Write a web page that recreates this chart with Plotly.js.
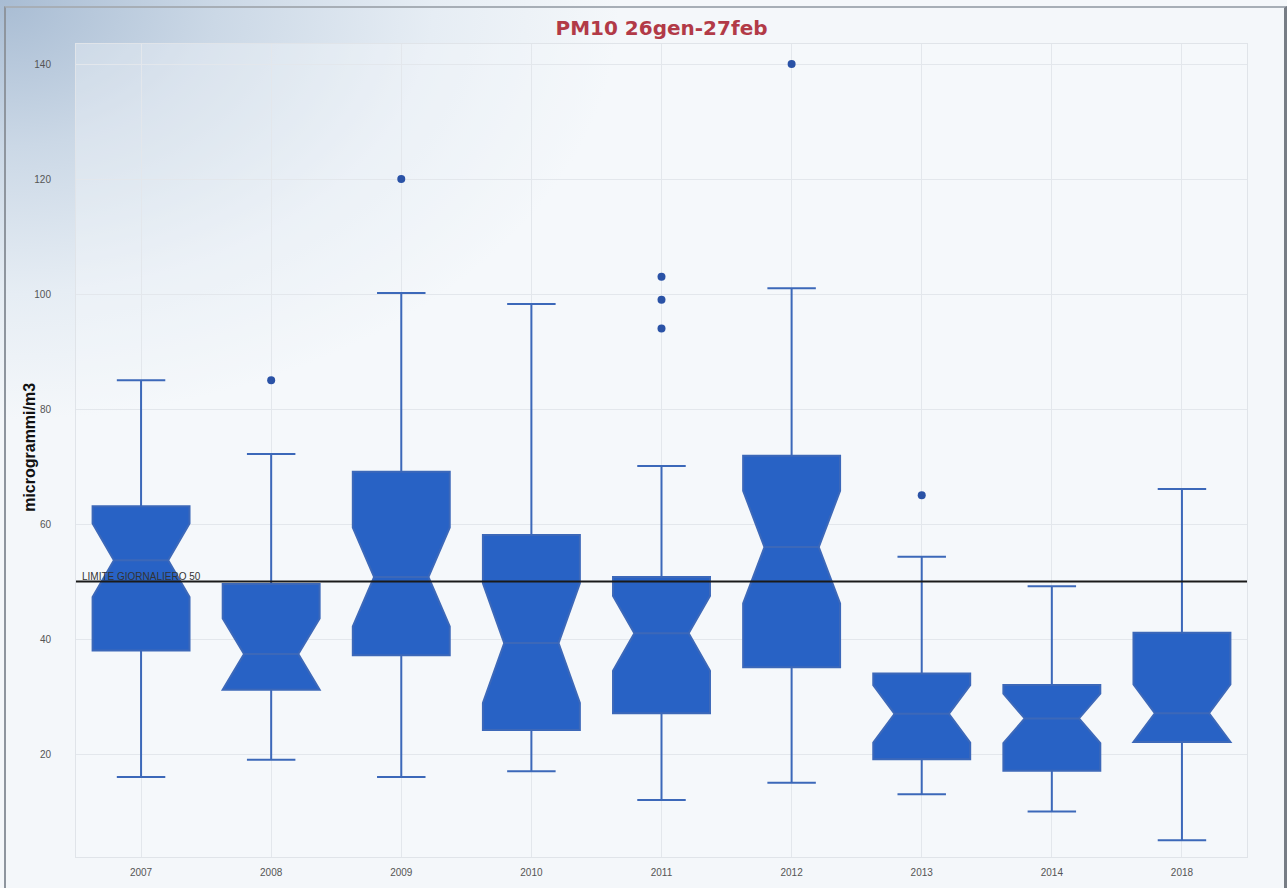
<!DOCTYPE html>
<html>
<head>
<meta charset="utf-8">
<script src="https://cdn.plot.ly/plotly-3.0.1.min.js"></script>
<style>
  html, body { margin: 0; padding: 0; }
  body {
    width: 1287px; height: 888px; overflow: hidden;
    background: radial-gradient(ellipse 620px 420px at 0px 0px, #a8bcd3 0%, #cbd8e6 35%, #e6edf4 70%, #f4f7fa 100%);
    background-color: #f4f7fa;
    position: relative;
  }
  #frame {
    position: absolute; left: 4px; top: 6px; width: 1278px; height: 890px;
    border-left: 2px solid #8e959e; border-top: 2px solid #a7aeb6; border-right: 3px solid #777d85;
    pointer-events: none; z-index: 5;
  }
  #chart { position: absolute; left: 0; top: 0; width: 1287px; height: 888px; }
</style>
</head>
<body>
<div id="chart"></div>
<div id="frame"></div>
<script>
const years      = ["2007", "2008", "2009", "2010", "2011", "2012", "2013", "2014", "2018"];
const lowerFence = [16, 19, 16, 17, 12, 15, 13, 10, 5];
const q1Vals     = [38, 31.2, 37.2, 24.2, 27.1, 35.1, 19.1, 17.1, 22.1];
const medianVals = [53.7, 37.4, 50.8, 39.3, 41.0, 56.0, 27.0, 26.2, 27.1];
const q3Vals     = [63.1, 49.6, 69.1, 58.1, 50.8, 71.9, 34.0, 32.0, 41.1];
const upperFence = [85, 72.2, 100.2, 98.3, 70.1, 101, 54.3, 49.2, 66.1];
const notchSpan  = [6.4, 6.2, 8.6, 10.4, 6.5, 9.8, 5.0, 4.3, 5.0];

const outlierYears  = ["2008", "2009", "2011", "2011", "2011", "2012", "2013"];
const outlierValues = [85, 120, 103, 99, 94, 140, 65];

const limitValue = 50;
const limitLabel = "LIMITE GIORNALIERO 50";
const yTitle = "microgrammi/m3";

const boxTrace = {
  type: "box",
  x: years,
  lowerfence: lowerFence,
  q1: q1Vals,
  median: medianVals,
  q3: q3Vals,
  upperfence: upperFence,
  notchspan: notchSpan,
  notched: true,
  notchwidth: 0.22,
  whiskerwidth: 0.5,
  width: 0.745,
  boxpoints: false,
  fillcolor: "#2862c5",
  line: { color: "#3c68b9", width: 2 },
  showlegend: false,
  hoverinfo: "skip"
};

const outlierTrace = {
  type: "scatter",
  mode: "markers",
  x: outlierYears,
  y: outlierValues,
  marker: { color: "#2a52a6", size: 8 },
  showlegend: false,
  hoverinfo: "skip"
};

const layout = {
  width: 1287,
  height: 888,
  margin: { l: 76, r: 40, t: 44, b: 31 },
  paper_bgcolor: "rgba(0,0,0,0)",
  plot_bgcolor: "rgba(246,248,251,0.35)",
  font: { family: "Liberation Sans, Arial, sans-serif", color: "#444" },
  title: {
    text: "<b>PM10 26gen-27feb</b>",
    font: { family: "DejaVu Sans, Verdana, sans-serif", size: 20, color: "#b23a47" },
    xref: "paper", x: 0.5, xanchor: "center",
    y: 0.969, yanchor: "middle", yref: "container"
  },
  xaxis: {
    type: "category",
    categoryorder: "array",
    categoryarray: years,
    range: [-0.5, 8.5],
    showgrid: true,
    gridcolor: "#e3e7ec",
    gridwidth: 1,
    showline: true,
    mirror: true,
    linecolor: "#e0e4e9",
    linewidth: 1,
    zeroline: false,
    ticks: "",
    tickfont: { size: 10, color: "#555" },
    ticklabelstandoff: 6
  },
  yaxis: {
    range: [2.1, 143.5],
    tickvals: [20, 40, 60, 80, 100, 120, 140],
    showgrid: true,
    gridcolor: "#e3e7ec",
    gridwidth: 1,
    showline: true,
    mirror: true,
    linecolor: "#e0e4e9",
    linewidth: 1,
    zeroline: false,
    ticks: "",
    tickfont: { size: 10, color: "#555" },
    ticklabelstandoff: 22,
    automargin: false
  },
  shapes: [{
    type: "line",
    xref: "paper", x0: 0, x1: 1,
    yref: "y", y0: limitValue, y1: limitValue,
    line: { color: "#1a1a1a", width: 2 },
    layer: "above"
  }],
  annotations: [{
    xref: "paper", x: 0.003, xanchor: "left",
    yref: "y", y: limitValue, yanchor: "bottom",
    text: limitLabel,
    showarrow: false,
    font: { size: 10, color: "#333", family: "Liberation Sans, Arial, sans-serif" },
    yshift: -2
  }, {
    xref: "paper", x: -0.0393, xanchor: "center",
    yref: "paper", y: 0.5045, yanchor: "middle",
    text: "<b>" + yTitle + "</b>",
    textangle: -90,
    showarrow: false,
    font: { size: 16, color: "#111", family: "Liberation Sans, Arial, sans-serif" }
  }]
};

Plotly.newPlot("chart", [boxTrace, outlierTrace], layout, { staticPlot: true, displayModeBar: false });
</script>
</body>
</html>
